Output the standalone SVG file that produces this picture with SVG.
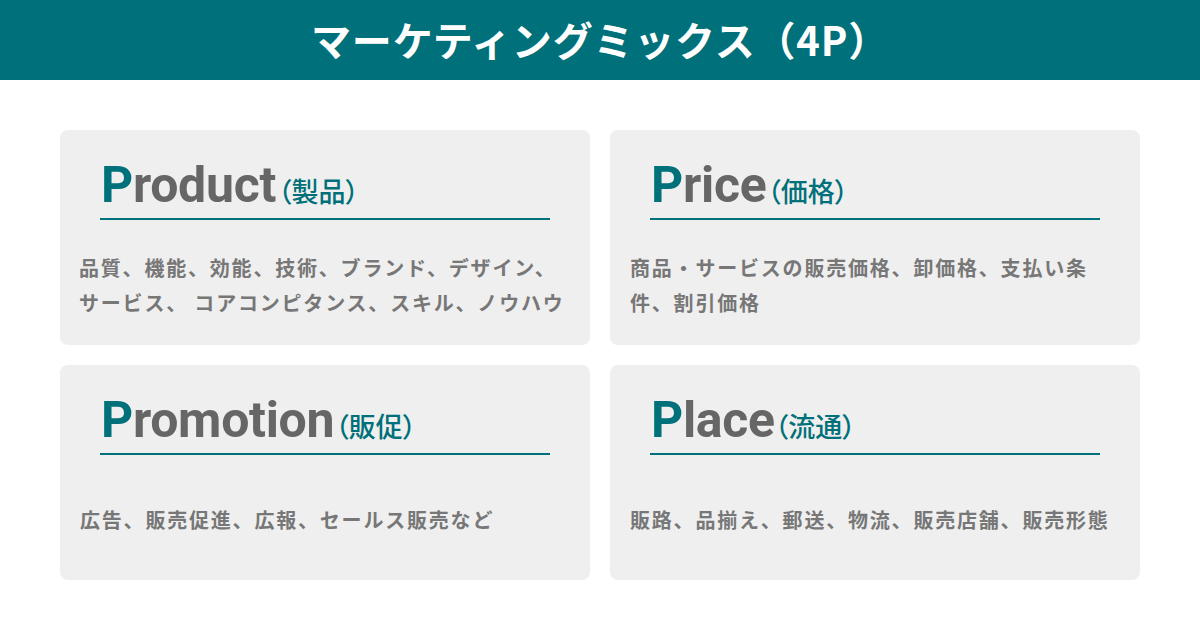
<svg xmlns="http://www.w3.org/2000/svg" width="1200" height="630" viewBox="0 0 1200 630">
<style>
.bg{fill:#ffffff}
.hdr{fill:#00707a}
.title{font-family:"Noto Sans CJK JP","Noto Sans",sans-serif;font-weight:700;font-size:40px;fill:#ffffff;letter-spacing:0.8px}
.card{fill:#efefef}
.head{font-family:Roboto,"Liberation Sans",sans-serif;font-weight:700;font-size:50px;fill:#666666;letter-spacing:-0.3px}
.p{fill:#00707a}
.sub{font-family:"Noto Sans CJK JP",sans-serif;font-weight:500;font-size:27px;fill:#00707a;letter-spacing:0;font-feature-settings:"palt"}
.rule{stroke:#00707a;stroke-width:2}
.body{font-family:"Noto Sans CJK JP",sans-serif;font-weight:700;font-size:20px;fill:#777777;letter-spacing:1.8px}
</style>
<rect class="bg" width="1200" height="630"/>
<rect class="hdr" width="1200" height="80"/>
<text class="title" x="600" y="56" text-anchor="middle">マーケティングミックス（4P）</text>

<g id="product">
<rect class="card" x="60" y="130" width="530" height="215" rx="8"/>
<text class="head" x="101" y="202"><tspan class="p">P</tspan>roduct<tspan class="sub" dx="2">（製品）</tspan></text>
<line class="rule" x1="100" y1="219" x2="550" y2="219"/>
<text class="body" x="79" y="276">品質、機能、効能、技術、ブランド、デザイン、</text>
<text class="body" x="79" y="311">サービス、 コアコンピタンス、スキル、ノウハウ</text>
</g>

<g id="price">
<rect class="card" x="610" y="130" width="530" height="215" rx="8"/>
<text class="head" x="651" y="202"><tspan class="p">P</tspan>rice<tspan class="sub" dx="1">（価格）</tspan></text>
<line class="rule" x1="650" y1="219" x2="1100" y2="219"/>
<text class="body" x="630" y="276">商品・サービスの販売価格、卸価格、支払い条</text>
<text class="body" x="630" y="311">件、割引価格</text>
</g>

<g id="promotion">
<rect class="card" x="60" y="365" width="530" height="215" rx="8"/>
<text class="head" x="101" y="437"><tspan class="p">P</tspan>romotion<tspan class="sub" dx="1">（販促）</tspan></text>
<line class="rule" x1="100" y1="454" x2="550" y2="454"/>
<text class="body" x="80" y="528">広告、販売促進、広報、セールス販売など</text>
</g>

<g id="place">
<rect class="card" x="610" y="365" width="530" height="215" rx="8"/>
<text class="head" x="651" y="437"><tspan class="p">P</tspan>lace<tspan class="sub" dx="0">（流通）</tspan></text>
<line class="rule" x1="650" y1="454" x2="1100" y2="454"/>
<text class="body" x="630" y="528">販路、品揃え、郵送、物流、販売店舗、販売形態</text>
</g>

<g id="connectors"></g>
</svg>
